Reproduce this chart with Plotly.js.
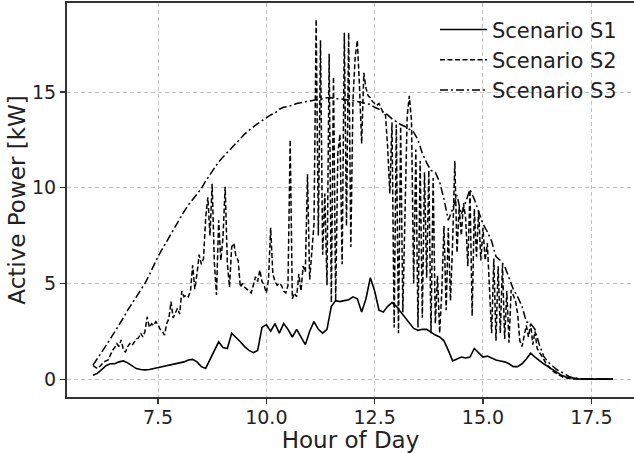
<!DOCTYPE html>
<html>
<head>
<meta charset="utf-8">
<script src="https://cdn.plot.ly/plotly-3.0.1.min.js"></script>
<style>
  html, body { margin: 0; padding: 0; background: #ffffff; overflow: hidden; }
  #chart { width: 634px; height: 453px; }
</style>
</head>
<body>
<div id="chart"></div>
<script>
// ---- Data ----
const seriesNames = ["Scenario S1", "Scenario S2", "Scenario S3"];

// Scenario S1 (solid), sampled every 0.1 h from 6.0 h
const s1Start = 6.0, s1Step = 0.1;
const s1Power = [
  0.2, 0.3, 0.5, 0.7, 0.8, 0.8, 0.9, 0.95, 0.85, 0.7,
  0.55, 0.5, 0.48, 0.5, 0.55, 0.6, 0.65, 0.7, 0.75, 0.8,
  0.82, 0.9, 1.0, 1.03, 0.9, 0.65, 0.56, 1.0, 1.5, 1.95,
  1.65, 1.6, 2.4, 2.2, 1.95, 1.7, 1.5, 1.38, 1.5, 2.7,
  2.85, 2.5, 2.9, 2.4, 2.9, 2.6, 2.2, 2.6, 2.2, 1.8,
  2.5, 3.0, 2.6, 2.4, 2.6, 3.8, 4.1, 4.05, 4.1, 4.15,
  4.3, 4.2, 3.5, 4.2, 5.3, 4.6, 3.6, 3.5, 3.8, 4.0,
  3.8, 3.5, 3.2, 2.9, 2.65, 2.55, 2.6, 2.6, 2.45, 2.3,
  2.2, 2.0, 1.5, 0.95, 1.05, 1.15, 1.1, 1.15, 1.6, 1.4,
  1.15, 1.2, 1.1, 1.0, 0.95, 0.9, 0.8, 0.65, 0.65, 0.8,
  1.05, 1.35, 1.15, 0.95, 0.8, 0.65, 0.5, 0.35, 0.22, 0.12,
  0.07, 0.03, 0.01, 0, 0, 0, 0, 0, 0, 0,
  0
];

// Scenario S2 (dashed), sampled every 0.05 h from 6.0 h
const s2Start = 6.0, s2Step = 0.05;
const s2Power = [
  0.7, 0.6, 0.55, 0.65, 0.8, 0.9, 0.95, 1.0, 1.25, 1.5,          // 6.00-6.45
  1.65, 1.85, 1.7, 2.05, 1.55, 1.4, 1.7, 1.85, 1.75, 1.95,       // 6.50-6.95
  2.1, 2.15, 2.4, 2.2, 2.5, 3.25, 2.7, 2.9, 2.8, 3.0,            // 7.00-7.45
  2.85, 2.6, 2.5, 2.3, 2.9, 3.15, 4.05, 3.2, 3.5, 3.7,           // 7.50-7.95
  3.4, 4.6, 4.3, 4.4, 4.3, 4.6, 5.95, 4.7, 5.5, 6.5,             // 8.00-8.45
  6.0, 6.3, 8.4, 9.5, 7.5, 10.2, 6.1, 4.4, 8.3, 6.2,             // 8.50-8.95
  7.4, 10.05, 6.1, 4.8, 6.9, 7.1, 6.4, 6.2, 4.8, 5.0,            // 9.00-9.45
  4.8, 4.7, 4.65, 4.5, 4.9, 5.35, 5.1, 5.7, 5.1, 4.9,            // 9.50-9.95
  4.5, 5.2, 7.9, 5.5, 5.1, 4.9, 5.0, 4.9, 4.6, 4.5,              // 10.00-10.45
  4.9, 12.5, 4.2, 4.5, 4.3, 5.5, 4.6, 5.9, 5.6, 10.7,            // 10.50-10.95
  5.2, 6.8, 8.1, 18.8, 7.5, 17.7, 6.5, 9.7, 4.9, 17.0,           // 11.00-11.45
  4.0, 15.8, 4.1, 11.8, 12.8, 6.0, 18.1, 8.0, 18.1, 6.9,         // 11.50-11.95
  14.6, 16.8, 17.7, 15.3, 12.3, 16.0, 15.2, 14.8, 14.7, 14.5,    // 12.00-12.45
  14.4, 14.3, 14.4, 14.1, 13.9, 13.8, 12.1, 9.7, 13.4, 2.7,      // 12.50-12.95
  13.3, 2.4, 13.2, 3.5, 9.4, 13.7, 14.8, 13.5, 5.0, 12.0,        // 13.00-13.45
  2.7, 11.4, 3.2, 10.8, 5.3, 10.9, 2.4, 10.5, 2.9, 5.4,          // 13.50-13.95
  2.4, 4.6, 8.0, 3.6, 7.9, 4.1, 7.2, 11.4, 6.6, 9.0,             // 14.00-14.45
  7.5, 9.2, 8.4, 5.9, 9.9, 3.3, 8.9, 6.4, 8.8, 6.2,              // 14.50-14.95
  7.9, 6.2, 7.1, 4.8, 2.4, 6.3, 2.0, 5.9, 2.4, 6.0,              // 15.00-15.45
  2.1, 4.6, 1.9, 4.65, 4.4, 4.1, 3.4, 2.0, 1.7, 2.2,             // 15.50-15.95
  2.8, 2.2, 2.9, 1.8, 2.5, 1.6, 1.4, 1.2, 1.0, 0.85,             // 16.00-16.45
  0.7, 0.55, 0.45, 0.35, 0.28, 0.2, 0.14, 0.1, 0.07, 0.04,       // 16.50-16.95
  0.02, 0, 0, 0, 0, 0, 0, 0, 0, 0,                               // 17.00-17.45
  0, 0, 0, 0, 0, 0, 0, 0, 0, 0,                                  // 17.50-17.95
  0                                                              // 18.00
];

// Scenario S3 (dash-dot), sampled every 0.1 h from 6.0 h
const s3Start = 6.0, s3Step = 0.1;
const s3Power = [
  0.73, 1.05, 1.4, 1.75, 2.1, 2.45, 2.8, 3.2, 3.6, 3.95,         // 6.0-6.9
  4.3, 4.65, 5.0, 5.45, 5.95, 6.4, 6.8, 7.2, 7.6, 8.0,           // 7.0-7.9
  8.4, 8.75, 9.1, 9.4, 9.65, 9.95, 10.35, 10.7, 11.0, 11.35,     // 8.0-8.9
  11.6, 11.85, 12.1, 12.35, 12.55, 12.8, 13.0, 13.2, 13.35, 13.5,// 9.0-9.9
  13.65, 13.8, 13.9, 14.1, 14.2, 14.25, 14.3, 14.4, 14.45, 14.5, // 10.0-10.9
  14.55, 14.6, 14.62, 14.65, 14.7, 14.7, 14.65, 14.65, 14.6, 14.58, // 11.0-11.9
  14.55, 14.5, 14.45, 14.4, 14.35, 14.2, 14.1, 13.95, 13.8, 13.6,// 12.0-12.9
  13.45, 13.3, 13.2, 13.05, 12.9, 12.5, 11.8, 11.3, 10.9, 10.8,  // 13.0-13.9
  10.3, 9.4, 8.3, 8.9, 9.6, 8.6, 9.3, 9.9, 9.4, 8.8,             // 14.0-14.9
  8.1, 7.7, 7.2, 6.4, 6.2, 5.9, 5.3, 4.7, 4.3, 3.8,              // 15.0-15.9
  3.0, 2.9, 2.6, 1.8, 1.2, 0.9, 0.7, 0.5, 0.38, 0.25,            // 16.0-16.9
  0.12, 0.05, 0.02, 0, 0, 0, 0, 0, 0, 0,                         // 17.0-17.9
  0                                                              // 18.0
];

const xTickVals = [7.5, 10.0, 12.5, 15.0, 17.5];
const xTickText = ["7.5", "10.0", "12.5", "15.0", "17.5"];
const yTickVals = [0, 5, 10, 15];
const yTickText = ["0", "5", "10", "15"];

// ---- Build hour grids (sampling times) ----
function hoursFor(start, step, n) {
  const h = [];
  for (let i = 0; i < n; i++) h.push(+(start + i * step).toFixed(3));
  return h;
}
const s1Hours = hoursFor(s1Start, s1Step, s1Power.length);
const s2Hours = hoursFor(s2Start, s2Step, s2Power.length);
const s3Hours = hoursFor(s3Start, s3Step, s3Power.length);

const FONT = "DejaVu Sans, Liberation Sans, sans-serif";

const traces = [
  { x: s1Hours, y: s1Power, name: seriesNames[0], type: "scatter", mode: "lines",
    line: { color: "#000000", width: 1.6, dash: "solid" } },
  { x: s2Hours, y: s2Power, name: seriesNames[1], type: "scatter", mode: "lines",
    line: { color: "#000000", width: 1.5, dash: "5px,2.5px" } },
  { x: s3Hours, y: s3Power, name: seriesNames[2], type: "scatter", mode: "lines",
    line: { color: "#000000", width: 1.5, dash: "8px,3px,2px,3px" } }
];

const layout = {
  width: 634,
  height: 453,
  margin: { l: 67, r: 0, t: 3, b: 56, pad: 0 },
  paper_bgcolor: "#ffffff",
  plot_bgcolor: "#ffffff",
  font: { family: FONT, color: "#222222" },
  showlegend: true,
  legend: {
    x: 0.649, y: 0.984, xanchor: "left", yanchor: "top",
    bgcolor: "rgba(0,0,0,0)", borderwidth: 0,
    font: { family: FONT, size: 21, color: "#222222" },
    itemwidth: 47, tracegroupgap: 0
  },
  xaxis: {
    range: [5.4, 18.485],
    tickvals: xTickVals, ticktext: xTickText,
    ticks: "outside", ticklen: 5, tickwidth: 1.2, tickcolor: "#333333",
    ticklabelstandoff: -3,
    tickfont: { family: FONT, size: 19, color: "#222222" },
    showline: true, linecolor: "#333333", linewidth: 2, mirror: true,
    showgrid: true, gridcolor: "#c4c4c4", gridwidth: 1, griddash: "4px,3px",
    zeroline: false,
    title: { text: "Hour of Day", font: { family: FONT, size: 23, color: "#222222" }, standoff: 6 }
  },
  yaxis: {
    range: [-0.935, 19.65],
    tickvals: yTickVals, ticktext: yTickText,
    ticks: "outside", ticklen: 5, tickwidth: 1.2, tickcolor: "#333333",
    tickfont: { family: FONT, size: 19, color: "#222222" },
    showline: true, linecolor: "#333333", linewidth: 2, mirror: false,
    showgrid: true, gridcolor: "#c4c4c4", gridwidth: 1, griddash: "4px,3px",
    zeroline: false,
    title: { text: "Active Power [kW]", font: { family: FONT, size: 23, color: "#222222" }, standoff: 0 }
  }
};

Plotly.newPlot("chart", traces, layout, { displayModeBar: false, staticPlot: true });
</script>
</body>
</html>
